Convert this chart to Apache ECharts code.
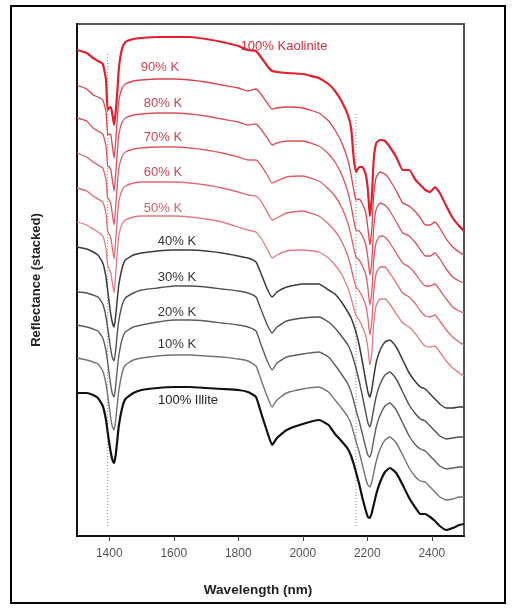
<!DOCTYPE html>
<html lang="en">

<head>
  <meta charset="UTF-8" />
  <title>Kaolinite - Illite mixture spectra</title>
  <script src="https://cdn.jsdelivr.net/npm/echarts@6/dist/echarts.min.js"></script>
  <style>
    html, body {
      margin: 0;
      padding: 0;
      background: #fff;
    }

    #chart {
      width: 516px;
      height: 608px;
    }
  </style>
</head>

<body>
  <div id="chart"></div>

  <script>
    // wavelength grid (nm) shared by all spectra
    const wavelengths = [1300, 1330, 1350, 1365, 1380, 1390, 1395, 1400, 1405, 1410, 1415, 1420, 1425, 1430, 1440, 1450, 1475, 1500, 1550, 1600,
      1650, 1700, 1750, 1800, 1830, 1855, 1870, 1890, 1905, 1920, 1950, 2000, 2050, 2080, 2100, 2120, 2140, 2150, 2158, 2165,
      2175, 2185, 2195, 2202, 2208, 2214, 2220, 2228, 2240, 2255, 2270, 2290, 2310, 2330, 2350, 2365, 2380, 2395, 2410, 2425,
      2445, 2465, 2485, 2500];

    // stacked reflectance (arbitrary offset units), top to bottom
    const kao100 = [486, 483, 478, 475, 472, 456, 426, 428, 429, 421, 411, 424, 444, 468, 488, 494, 497, 498, 499, 499,
      499, 497, 494, 490, 486, 485, 479, 470, 465, 464, 463, 462, 458, 452, 445, 435, 421, 408, 378, 364,
      369, 369, 362, 346, 320, 338, 376, 393, 396, 395, 389, 379, 366, 366, 356, 351, 346, 344, 349, 343,
      330, 318, 310, 305];
    const kao90 = [451, 447, 441, 439, 436, 424, 401, 402, 401, 389, 378, 394, 418, 436, 448, 452, 455, 456, 457, 457,
      456, 454, 451, 448, 445, 447, 442, 433, 427, 428, 429, 428, 423, 415, 406, 394, 376, 361, 346, 336,
      337, 332, 324, 308, 291, 306, 341, 359, 364, 362, 356, 345, 333, 330, 324, 318, 311, 311, 314, 308,
      297, 289, 284, 281];
    const kao80 = [418, 415, 408, 405, 402, 390, 370, 369, 366, 355, 345, 362, 384, 402, 414, 418, 421, 422, 423, 423,
      422, 420, 417, 414, 411, 412, 407, 398, 391, 393, 395, 395, 390, 382, 374, 362, 344, 330, 316, 306,
      305, 300, 292, 278, 261, 274, 308, 327, 333, 331, 325, 314, 303, 300, 293, 286, 280, 280, 283, 277,
      267, 259, 255, 253];
    const kao70 = [383, 379, 374, 371, 368, 356, 338, 336, 332, 321, 311, 329, 351, 368, 380, 384, 387, 388, 389, 389,
      388, 386, 383, 379, 376, 376, 371, 361, 353, 355, 359, 360, 355, 347, 340, 329, 313, 300, 288, 279,
      276, 270, 262, 248, 231, 243, 276, 294, 300, 299, 293, 283, 273, 269, 262, 255, 250, 250, 252, 246,
      237, 229, 225, 223];
    const kao60 = [348, 345, 340, 337, 334, 322, 305, 302, 298, 287, 277, 296, 318, 335, 346, 350, 353, 354, 354, 354,
      353, 351, 348, 344, 341, 340, 335, 324, 316, 318, 323, 325, 320, 312, 305, 295, 280, 268, 257, 249,
      245, 239, 231, 218, 201, 213, 244, 263, 269, 269, 263, 253, 243, 239, 232, 225, 220, 219, 221, 215,
      206, 199, 194, 191];
    const kao50 = [314, 311, 307, 304, 300, 287, 271, 267, 263, 252, 243, 262, 284, 301, 312, 316, 319, 320, 320, 320,
      319, 317, 314, 309, 306, 304, 298, 287, 278, 281, 285, 286, 284, 278, 271, 262, 248, 238, 228, 221,
      216, 209, 201, 188, 171, 182, 212, 231, 237, 237, 232, 222, 213, 209, 202, 195, 190, 189, 190, 184,
      175, 168, 163, 160];
    const kao40 = [289, 287, 284, 281, 273, 259, 246, 233, 221, 213, 209, 220, 237, 252, 268, 276, 281, 283, 285, 286,
      286, 285, 283, 280, 278, 274, 263, 247, 239, 244, 249, 252, 252, 246, 242, 234, 224, 218, 211, 204,
      191, 174, 156, 144, 139, 146, 159, 174, 186, 194, 196, 189, 176, 163, 154, 149, 147, 142, 137, 132,
      128, 128, 129, 129];
    const kao30 = [244, 243, 241, 239, 232, 219, 208, 197, 186, 178, 175, 186, 203, 216, 231, 238, 243, 246, 248, 250,
      250, 249, 247, 245, 243, 239, 227, 211, 203, 209, 215, 218, 219, 214, 208, 200, 191, 184, 176, 168,
      155, 140, 124, 113, 109, 116, 127, 140, 152, 161, 164, 157, 144, 131, 122, 117, 115, 110, 105, 100,
      97, 98, 99, 99];
    const kao20 = [211, 209, 207, 205, 198, 185, 174, 162, 150, 142, 139, 150, 167, 181, 197, 204, 209, 211, 214, 216,
      216, 215, 213, 211, 209, 205, 192, 175, 166, 173, 179, 182, 184, 179, 171, 162, 152, 144, 135, 126,
      115, 102, 89, 81, 79, 85, 96, 109, 121, 130, 133, 126, 113, 100, 91, 87, 85, 80, 75, 70,
      67, 68, 69, 69];
    const kao10 = [178, 176, 174, 172, 165, 152, 141, 129, 117, 109, 106, 116, 132, 146, 163, 171, 176, 178, 180, 181,
      181, 180, 179, 177, 175, 170, 157, 139, 129, 136, 143, 147, 149, 144, 136, 128, 119, 112, 103, 95,
      84, 71, 58, 51, 49, 54, 63, 75, 87, 96, 99, 93, 81, 68, 59, 55, 54, 49, 44, 39,
      36, 37, 39, 39];
    const illite100 = [143, 143, 141, 138, 130, 116, 104, 93, 83, 76, 73, 81, 96, 111, 128, 137, 143, 146, 148, 149,
      149, 148, 147, 146, 144, 139, 124, 104, 91, 98, 106, 112, 116, 111, 102, 95, 87, 80, 72, 64,
      52, 38, 26, 19, 18, 23, 31, 42, 54, 64, 68, 63, 51, 38, 28, 22, 22, 19, 15, 10,
      6, 8, 11, 12];

    const spectra = [kao100, kao90, kao80, kao70, kao60, kao50, kao40, kao30, kao20, kao10, illite100];
    const spectrumNames = ['100% Kaolinite', '90% K', '80% K', '70% K', '60% K', '50% K', '40% K', '30% K', '20% K', '10% K', '100% Illite'];
    const lineColors = ['#e0202c', '#d9444e', '#d9515b', '#db5d66', '#de6a72', '#e07c83', '#3a3a3a', '#505050', '#5e5e5e', '#737373', '#111111'];
    const lineWidths = [2.2, 1.3, 1.3, 1.3, 1.3, 1.3, 1.5, 1.4, 1.4, 1.4, 2.2];

    // dotted reference lines: wavelength, bottom, top
    const refWavelengths = [1395, 2165];
    const refBottoms = [10, 10];
    const refTops = [484, 423];

    const xTicks = [1400, 1600, 1800, 2000, 2200, 2400];

    const chart = echarts.init(document.getElementById('chart'));

    const series = spectra.map((vals, i) => ({
      name: spectrumNames[i],
      type: 'line',
      data: wavelengths.map((w, j) => [w, vals[j]]),
      showSymbol: false,
      smooth: 0.15,
      lineStyle: { color: lineColors[i], width: lineWidths[i] },
      z: 3
    }));

    refWavelengths.forEach((w, i) => {
      series.push({
        name: 'ref' + w,
        type: 'line',
        data: [[w, refBottoms[i]], [w, refTops[i]]],
        showSymbol: false,
        lineStyle: { color: '#8a8a8a', width: 1, type: [1, 2] },
        z: 2
      });
    });

    // label positions (pixels)
    const labelPos = [[284, 46], [160, 67], [163, 103], [163, 137], [163, 172], [163, 208], [177, 241], [177, 277], [177, 312], [177, 344], [188, 400]];
    const labelColors = ['#d23038', '#c94650', '#c94650', '#c94650', '#c94650', '#d0626a', '#333', '#333', '#333', '#333', '#222'];

    const graphics = spectrumNames.map((n, i) => ({
      type: 'text',
      x: labelPos[i][0],
      y: labelPos[i][1],
      style: {
        text: n,
        fill: labelColors[i],
        font: '13px "Liberation Sans", Arial, sans-serif',
        align: 'center',
        verticalAlign: 'middle'
      }
    }));

    graphics.push({
      type: 'text',
      x: 258, y: 590,
      style: {
        text: 'Wavelength (nm)',
        fill: '#222',
        font: 'bold 13.5px "Liberation Sans", Arial, sans-serif',
        align: 'center',
        verticalAlign: 'middle'
      }
    });
    graphics.push({
      type: 'text',
      x: 36, y: 280,
      rotation: Math.PI / 2,
      style: {
        text: 'Reflectance (stacked)',
        fill: '#222',
        font: 'bold 13px "Liberation Sans", Arial, sans-serif',
        align: 'center',
        verticalAlign: 'middle'
      }
    });
    graphics.push({
      type: 'rect',
      shape: { x: 11, y: 6, width: 494, height: 597 },
      style: { fill: 'none', stroke: '#000', lineWidth: 2 },
      silent: true
    });

    const option = {
      animation: false,
      backgroundColor: '#fff',
      grid: {
        left: 77, top: 24, right: 52, bottom: 72,
        show: true,
        borderColor: '#555',
        borderWidth: 2
      },
      xAxis: {
        type: 'value',
        min: 1300,
        max: 2500,
        axisLine: { lineStyle: { color: '#111', width: 2 } },
        axisTick: { show: true, length: 5, customValues: xTicks, lineStyle: { color: '#444' } },
        axisLabel: {
          customValues: xTicks,
          formatter: v => String(v),
          color: '#555',
          fontSize: 12,
          margin: 12,
          fontFamily: '"Liberation Sans", Arial, sans-serif'
        },
        splitLine: { show: false }
      },
      yAxis: {
        type: 'value',
        min: 0,
        max: 512,
        axisLine: { show: true, lineStyle: { color: '#111', width: 2 } },
        axisTick: { show: false },
        axisLabel: { show: false },
        splitLine: { show: false }
      },
      graphic: graphics,
      series: series
    };

    chart.setOption(option);
  </script>
</body>

</html>
